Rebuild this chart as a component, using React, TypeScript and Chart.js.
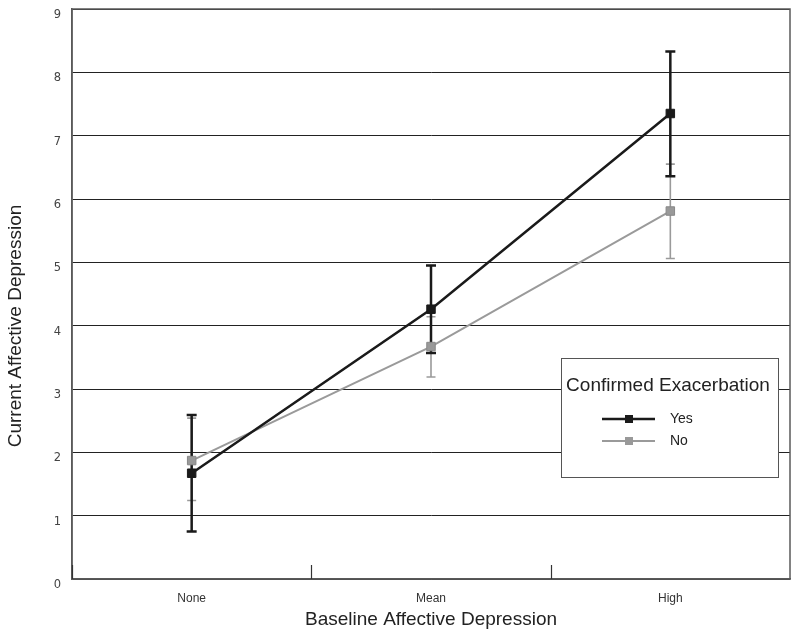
import React, { useEffect, useRef } from "react";
import { Chart, registerables } from "chart.js";

Chart.register(...registerables);

const categories = ["None", "Mean", "High"];
const seriesNames = ["Yes", "No"];
const yesValues = [1.67, 4.26, 7.35];
const yesLow = [0.75, 3.57, 6.36];
const yesHigh = [2.59, 4.95, 8.33];
const noValues = [1.87, 3.67, 5.81];
const noLow = [1.24, 3.19, 5.06];
const noHigh = [2.54, 4.14, 6.55];
const yTicks = [0, 1, 2, 3, 4, 5, 6, 7, 8, 9];
const legendTitle = "Confirmed Exacerbation";
const xTitle = "Baseline Affective Depression";
const yTitle = "Current Affective Depression";

const SANS = "'Liberation Sans', Arial, sans-serif";

const errLow = [yesLow, noLow];
const errHigh = [yesHigh, noHigh];
const errStyle = [
  { color: "#1a1a1a", width: 2.5, cap: 5 },
  { color: "#9a9a9a", width: 1.6, cap: 4.5 },
];

const framePlugin = {
  id: "frame",
  beforeDatasetsDraw(chart: any) {
    const { ctx, chartArea } = chart;
    const xs = chart.scales.x;
    ctx.save();
    ctx.strokeStyle = "#5a5a5a";
    ctx.lineWidth = 1.5;
    ctx.strokeRect(chartArea.left, chartArea.top, chartArea.right - chartArea.left, chartArea.bottom - chartArea.top);
    ctx.strokeStyle = "#333";
    ctx.lineWidth = 1.2;
    const n = categories.length;
    const bounds: number[] = [chartArea.left];
    for (let i = 0; i < n - 1; i++) {
      bounds.push((xs.getPixelForValue(i) + xs.getPixelForValue(i + 1)) / 2);
    }
    bounds.forEach((bx) => {
      const px = Math.round(bx) + 0.5;
      ctx.beginPath();
      ctx.moveTo(px, chartArea.bottom - 14);
      ctx.lineTo(px, chartArea.bottom);
      ctx.stroke();
    });
    const ys = chart.scales.y;
    for (let d = chart.data.datasets.length - 1; d >= 0; d--) {
      const meta = chart.getDatasetMeta(d);
      const st = errStyle[d];
      ctx.strokeStyle = st.color;
      ctx.lineWidth = st.width;
      meta.data.forEach((pt: any, i: number) => {
        const x = pt.x;
        const yl = ys.getPixelForValue(errLow[d][i]);
        const yh = ys.getPixelForValue(errHigh[d][i]);
        ctx.beginPath();
        ctx.moveTo(x, yl);
        ctx.lineTo(x, yh);
        ctx.moveTo(x - st.cap, yl);
        ctx.lineTo(x + st.cap, yl);
        ctx.moveTo(x - st.cap, yh);
        ctx.lineTo(x + st.cap, yh);
        ctx.stroke();
      });
    }
    ctx.restore();
  },
  afterDraw(chart: any) {
    const { ctx, chartArea } = chart;
    ctx.save();
    ctx.translate(16, (chartArea.top + chartArea.bottom) / 2 + 32);
    ctx.rotate(-Math.PI / 2);
    ctx.fillStyle = "#222";
    ctx.font = `19px ${SANS}`;
    ctx.textAlign = "center";
    ctx.textBaseline = "middle";
    ctx.fillText(yTitle, 0, 0);
    ctx.restore();

    const bx = chartArea.right - 229;
    const by = chartArea.top + 349;
    const bw = 217;
    const bh = 119;
    ctx.save();
    ctx.fillStyle = "#fff";
    ctx.fillRect(bx, by, bw, bh);
    ctx.strokeStyle = "#555";
    ctx.lineWidth = 1;
    ctx.strokeRect(bx + 0.5, by + 0.5, bw, bh);
    ctx.fillStyle = "#222";
    ctx.font = `19px ${SANS}`;
    ctx.textAlign = "center";
    ctx.textBaseline = "middle";
    ctx.fillText(legendTitle, bx + 107, by + 28);
    chart.data.datasets.forEach((ds: any, i: number) => {
      const ly = by + 61 + i * 22;
      ctx.strokeStyle = ds.borderColor;
      ctx.lineWidth = ds.borderWidth;
      ctx.beginPath();
      ctx.moveTo(bx + 41, ly);
      ctx.lineTo(bx + 94, ly);
      ctx.stroke();
      ctx.fillStyle = ds.pointBackgroundColor;
      ctx.fillRect(bx + 64, ly - 4, 8, 8);
      ctx.fillStyle = "#222";
      ctx.font = `14px ${SANS}`;
      ctx.textAlign = "left";
      ctx.fillText(seriesNames[i], bx + 109, ly);
    });
    ctx.restore();
  },
};

export default function App() {
  const ref = useRef<HTMLCanvasElement | null>(null);
  useEffect(() => {
    if (!ref.current) return;
    const chart = new Chart(ref.current, {
      type: "line",
      data: {
        labels: categories,
        datasets: [
          {
            label: seriesNames[0],
            data: yesValues,
            borderColor: "#1a1a1a",
            borderWidth: 2.5,
            pointStyle: "rect",
            pointRadius: 6,
            pointBackgroundColor: "#1a1a1a",
            pointBorderColor: "#1a1a1a",
            pointBorderWidth: 1,
            tension: 0,
          },
          {
            label: seriesNames[1],
            data: noValues,
            borderColor: "#9a9a9a",
            borderWidth: 2,
            pointStyle: "rect",
            pointRadius: 6,
            pointBackgroundColor: "#999",
            pointBorderColor: "#888",
            pointBorderWidth: 1,
            tension: 0,
          },
        ],
      },
      options: {
        responsive: false,
        animation: false,
        devicePixelRatio: 1,
        layout: { padding: { left: 0, top: 9, right: 10, bottom: 0 } },
        plugins: { legend: { display: false }, tooltip: { enabled: false } },
        scales: {
          x: {
            type: "category",
            offset: true,
            grid: { display: false },
            border: { display: true, color: "#5a5a5a", width: 1.5 },
            ticks: { font: { family: SANS, size: 12 }, color: "#333", padding: 4 },
            title: {
              display: true,
              text: xTitle,
              font: { family: SANS, size: 19 },
              color: "#222",
              padding: { top: 0, bottom: 9 },
            },
            afterFit: (s: any) => {
              s.height = 61;
              s.paddingLeft = 0;
              s.paddingRight = 0;
            },
          },
          y: {
            min: 0,
            max: 9,
            afterBuildTicks: (s: any) => {
              s.ticks = yTicks.map((v) => ({ value: v }));
            },
            grid: { color: "#222", lineWidth: 1, drawTicks: false },
            border: { display: true, color: "#5a5a5a", width: 1.5 },
            ticks: {
              font: { family: "'DejaVu Sans', sans-serif", size: 11.5 },
              color: "#444",
              padding: 11,
              labelOffset: 6,
            },
            afterFit: (s: any) => {
              s.width = 72;
              s.paddingTop = 0;
              s.paddingBottom = 0;
            },
          },
        },
      },
      plugins: [framePlugin],
    });
    return () => chart.destroy();
  }, []);
  return (
    <div style={{ position: "fixed", left: 0, top: 0, width: 800, height: 640, background: "#fff" }}>
      <canvas ref={ref} width={800} height={640} style={{ width: 800, height: 640 }} />
    </div>
  );
}
